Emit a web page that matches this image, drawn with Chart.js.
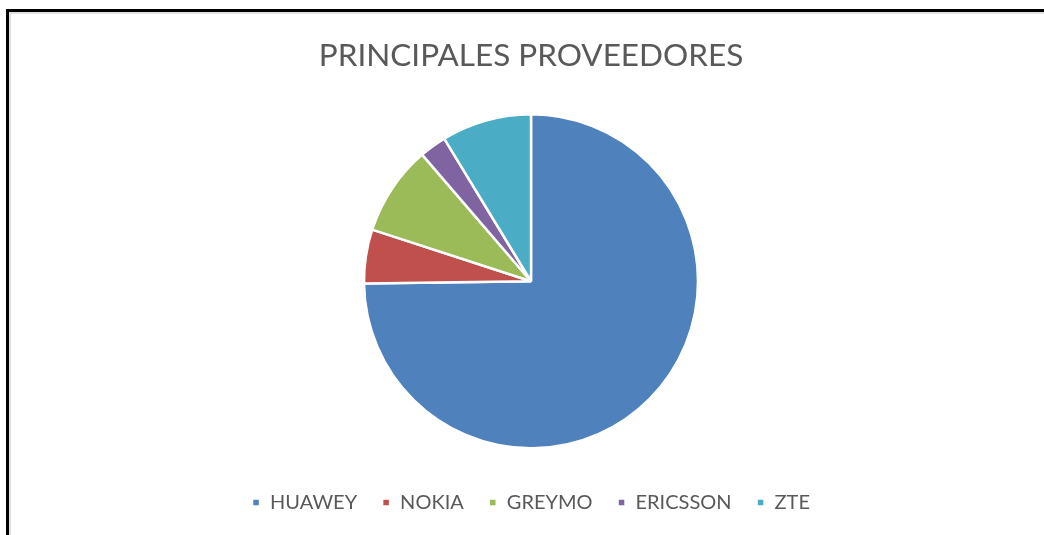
<!DOCTYPE html>
<html>
<head>
<meta charset="utf-8">
<script src="https://cdn.jsdelivr.net/npm/chart.js@4"></script>
<style>
  html, body { margin: 0; padding: 0; background: #fff; }
  #wrap { position: relative; width: 1044px; height: 535px; overflow: hidden; }
  #frame {
    position: absolute; left: 6px; top: 9px; width: 1100px; height: 600px;
    border-top: 3px solid #000; border-left: 3px solid #000;
    box-shadow: inset 2px 2px 0 #e0e0e0;
  }
  #chart { position: absolute; left: 0; top: 0; }
</style>
</head>
<body>
<div id="wrap">
  <div id="frame"></div>
  <canvas id="chart" width="1044" height="535"></canvas>
</div>
<script>
var proveedores = ['HUAWEY', 'NOKIA', 'GREYMO', 'ERICSSON', 'ZTE'];
var cantidades = [86, 6, 10, 3, 10];
var colores = ['#4F81BD', '#C0504D', '#9BBB59', '#8064A2', '#4BACC6'];

var textColor = '#595959';
var fontFamily = 'Lato, "Open Sans", sans-serif';

var ctx = document.getElementById('chart').getContext('2d');

var proveedoresChart = new Chart(ctx, {
    type: 'pie',
    data: {
        labels: proveedores,
        datasets: [{
            data: cantidades,
            backgroundColor: colores,
            borderColor: '#ffffff',
            borderWidth: 2.5
        }]
    },
    options: {
        responsive: false,
        animation: false,
        radius: 167,
        layout: {
            padding: { left: 18, bottom: 12.5 }
        },
        plugins: {
            title: {
                display: true,
                text: 'PRINCIPALES PROVEEDORES',
                color: textColor,
                font: { family: fontFamily, size: 31.5, weight: 'normal', lineHeight: 1.2 },
                padding: { top: 37.1, bottom: 20.1 }
            },
            legend: {
                position: 'bottom',
                labels: {
                    boxWidth: 8,
                    boxHeight: 8,
                    padding: 25,
                    color: textColor,
                    font: { family: fontFamily, size: 20 }
                }
            },
            tooltip: { enabled: false }
        }
    }
});
</script>
</body>
</html>
